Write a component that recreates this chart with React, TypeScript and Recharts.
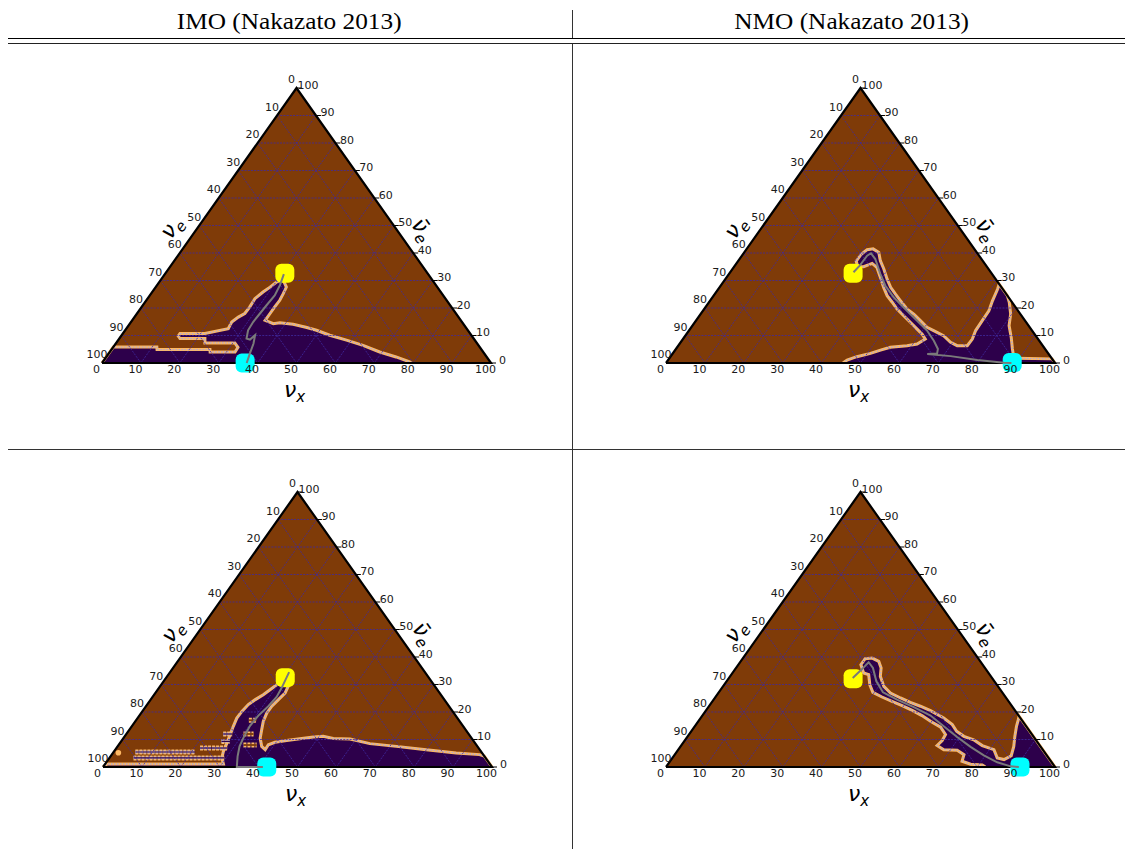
import React from "react";
import { ComposedChart, Area, Line, Scatter, XAxis, YAxis } from "recharts";

// ternary points are [nu_x, nubar_e] in percent (nu_e is the remainder)
type TP = [number, number];

const COLUMN_TITLES = ["IMO (Nakazato 2013)", "NMO (Nakazato 2013)"];
const TICKS = [0, 10, 20, 30, 40, 50, 60, 70, 80, 90, 100];
const GRID_STEPS = [10, 20, 30, 40, 50, 60, 70, 80, 90];

// ---- IMO, top row
const imoTopRegion: TP[] = [
  [0, 0], [0, 5.8], [11.2, 5.8], [11.7, 4.9], [25.3, 4.9], [25.8, 4.0], [32.2, 4.0],
  [32.1, 5.7], [30.5, 7.3], [22.8, 7.3], [22.0, 8.9], [15.6, 8.9], [14.7, 9.8], [14.7, 10.7],
  [21.1, 10.7], [26.2, 12.5], [25.9, 14.9], [26.7, 16.7], [27.7, 18.0], [27.8, 20.4],
  [27.6, 23.4], [28.5, 25.8], [29.4, 27.6], [30.2, 29.5], [31.3, 30.4], [33.6, 27.6],
  [34.0, 25.2], [34.3, 22.8], [34.2, 20.4], [34.2, 18.0], [34.2, 15.5], [36.9, 14.3],
  [38.4, 14.6], [42.1, 14.1], [46.2, 12.9], [49.2, 11.9], [53.5, 10.1], [58.7, 8.3],
  [63.9, 6.4], [69.4, 4.0], [74.5, 2.2], [78.9, 0.4], [79.6, 0],
];
const imoTopTrack: TP[] = [
  [30.6, 32.3], [31.6, 28.3], [32.1, 24.6], [31.8, 21.0], [31.6, 18.0], [31.4, 14.9],
  [31.6, 11.9], [32.7, 8.9], [33.8, 8.5], [34.3, 10.1], [35.4, 7.1], [36.3, 3.4], [37.2, 0],
];
const imoTopStart: TP = [30.7, 32.6];
const imoTopEnd: TP = [36.8, 0];

// ---- NMO, top row
const nmoTopRegion: TP[] = [
  [45.5, 0], [46.0, 1.1], [47.9, 2.3], [50.8, 3.5], [52.8, 4.7], [54.8, 5.7], [58.8, 6.3],
  [61.1, 6.9], [62.3, 8.7], [60.6, 10.5], [58.3, 12.4], [55.4, 14.8], [52.5, 17.2],
  [49.6, 19.6], [47.1, 22.1], [44.6, 24.5], [42.2, 27.5], [39.5, 31.2], [36.8, 34.8],
  [34.9, 36.2], [33.3, 35.0], [31.8, 35.0], [30.4, 37.0], [30.4, 39.4], [31.1, 41.2],
  [32.5, 41.5], [34.6, 40.2], [36.5, 37.2], [38.9, 34.2], [41.6, 30.5], [44.0, 27.5],
  [46.4, 25.1], [48.9, 22.7], [52.2, 19.6], [54.8, 17.8], [57.7, 15.4], [60.6, 13.0],
  [62.9, 11.8], [66.4, 9.9], [69.4, 7.5], [71.7, 6.3], [74.3, 6.3], [74.4, 8.7],
  [73.7, 11.8], [73.6, 15.4], [73.5, 19.0], [72.6, 22.7], [71.8, 26.9], [71.3, 28.7],
  [75.5, 24.5], [77.2, 22.1], [79.7, 17.8], [81.4, 13.6], [84.1, 9.3], [86.5, 5.1],
  [88.6, 1.7], [98.5, 1.5], [100, 0],
];
const nmoTopTrack: TP[] = [
  [31.7, 33.0], [32.1, 35.4], [32.2, 39.0], [32.75, 39.9], [34.9, 37.8], [38.9, 32.4],
  [42.35, 28.1], [46.6, 23.9], [51.7, 19.6], [56.8, 15.4], [61.2, 11.8], [64.8, 8.1],
  [67.35, 5.1], [67.95, 3.5], [65.5, 3.3], [71.9, 2.5], [79.5, 1.1], [86.85, 0.1], [88.8, 0],
];
const nmoTopStart: TP = [31.8, 32.6];
const nmoTopEnd: TP = [88.9, 0.2];

// ---- IMO, bottom row
const imoBotRegion: TP[] = [
  [0, 0], [0.5, 1.1], [30.4, 1.1], [28.9, 3.3], [28.1, 5.7], [27.5, 8.7], [26.8, 11.8],
  [26.1, 14.8], [25.5, 17.8], [25.6, 20.2], [26.0, 22.7], [26.9, 24.5], [28.05, 26.3],
  [28.9, 28.1], [29.7, 29.9], [31.0, 30.8], [32.95, 29.3], [33.35, 26.9], [32.85, 24.5],
  [32.35, 22.1], [32.3, 19.6], [32.9, 16.6], [34.0, 13.6], [35.15, 10.5], [37.05, 7.5],
  [38.55, 6.3], [38.45, 8.1], [39.7, 9.0], [42.4, 9.6], [45.45, 10.3], [48.65, 10.9],
  [51.0, 11.2], [54.0, 10.4], [58.4, 10.2], [64.35, 8.5], [71.65, 7.5], [79.95, 6.3],
  [88.25, 5.1], [94.55, 4.5], [96, 4.0], [100, 0],
];
const imoBotStripes: TP[][] = [
  [[6.2, 3.3], [29.5, 3.3]],
  [[5.6, 5.45], [21.0, 5.45]],
  [[21.5, 6.9], [28.5, 6.9]],
  [[25.8, 9.3], [28.0, 9.3]],
  [[24.9, 12.0], [27.2, 12.0]],
];
const imoBotCuts: TP[][] = [
  [[30.1, 12.0], [32.7, 12.0]],
  [[32.1, 8.0], [35.5, 8.0]],
  [[29.0, 17.0], [31.0, 17.0]],
];
const imoBotSpecks: TP[] = [[1.35, 5.2]];
const imoBotTrack: TP[] = [
  [30.6, 34.5], [31.55, 28.7], [31.9, 25.45], [31.45, 22.1], [30.6, 18.7], [30.3, 15.0],
  [30.7, 11.15], [31.35, 7.5], [32.65, 3.9], [34.4, 0], [41.1, 0],
];
const imoBotStart: TP = [30.6, 32.5];
const imoBotEnd: TP = [42.1, 0];

// ---- NMO, bottom row
const nmoBotRegion: TP[] = [
  [82.1, 0], [80.95, 0.7], [77.8, 1.0], [75.05, 2.1], [74.35, 4.5], [71.8, 6.1],
  [68.25, 6.3], [65.8, 7.8], [66.2, 9.6], [65.95, 11.8], [63.35, 14.5], [59.7, 16.6],
  [56.45, 18.7], [53.0, 20.6], [49.55, 22.3], [46.15, 23.9], [42.8, 25.45], [39.6, 27.15],
  [37.45, 29.9], [35.3, 33.6], [33.7, 34.2], [31.5, 37.2], [31.5, 39.4], [33.2, 39.6],
  [35.5, 38.4], [37.3, 36.0], [38.6, 33.0], [41.35, 29.3], [44.25, 26.9], [47.75, 25.1],
  [51.05, 23.5], [54.35, 22.1], [57.75, 20.5], [62.5, 17.8], [65.9, 15.4], [68.2, 13.0],
  [71.0, 11.15], [74.15, 9.9], [77.4, 7.8], [81.15, 6.3], [83.5, 3.3], [85.55, 2.7],
  [86.7, 4.1], [85.65, 7.5], [84.1, 11.15], [82.7, 14.8], [81.9, 17.45], [81.5, 18.5], [100, 0],
];
const nmoBotTrack: TP[] = [
  [31.8, 32.4], [32.6, 35.6], [33.05, 38.1], [35.2, 36.0], [38.5, 31.15], [42.2, 27.15],
  [47.15, 24.5], [52.8, 21.8], [58.65, 18.7], [64.0, 14.8], [69.4, 10.9], [74.65, 7.3],
  [79.6, 4.2], [84.3, 1.7], [88.5, 0.24], [90.7, 0],
];
const nmoBotStart: TP = [32.05, 32.1];
const nmoBotEnd: TP = [91.0, 0];

const BROWN = "#7f3b08";
const PURPLE = "#2d004b";
const EDGE_OUT = "#fdb863";
const EDGE_IN = "#b2abd2";
const GRID_COLOR = "#3f2aa0";
const TRACK_COLOR = "#7a7a7a";
const LABEL_FONT = "'DejaVu Sans', sans-serif";

// chart box and plot area (plot area = bounding box of the triangle)
const CW = 560;
const CH = 400;
const ML = 94;
const MT = 40;
const PW = 389;
const PH = 275;

const toXY = ([a, b]: TP) => ({ x: a + b / 2, y: b });

const TRIANGLE = ([[0, 0], [0, 100], [100, 0]] as TP[]).map(toXY);
const FRAME = ([[0, 0], [0, 100], [100, 0], [0, 0]] as TP[]).map(toXY);

function gridData() {
  const out: { x: number; y: number | null }[] = [];
  for (const t of GRID_STEPS) {
    const segs: [TP, TP][] = [
      [[0, t], [100 - t, t]],
      [[t, 0], [t, 100 - t]],
      [[100 - t, 0], [0, 100 - t]],
    ];
    for (const [a, b] of segs) {
      const pa = toXY(a);
      const pb = toXY(b);
      out.push(pa, pb, { x: pb.x, y: null });
    }
  }
  return out;
}
const GRID = gridData();

const BOTTOM_LABELS = TICKS.map((v) => ({ ...toXY([v, 0]), label: v }));
const LEFT_LABELS = TICKS.map((v) => ({ ...toXY([0, 100 - v]), label: v }));
const RIGHT_LABELS = TICKS.map((v) => ({ ...toXY([100 - v, v]), label: v }));

const labelText = {
  fontFamily: LABEL_FONT,
  fontSize: 11,
  fill: "#1a1a1a",
  textAnchor: "middle" as const,
  dominantBaseline: "central" as const,
};

const bottomLabel = (p: any) => (
  <text x={p.cx - 5.5} y={p.cy + 6} {...labelText}>
    {p.payload.label}
  </text>
);
const leftLabel = (p: any) => (
  <text x={p.cx - 5} y={p.cy - 8.5} {...labelText}>
    {p.payload.label}
  </text>
);
const rightLabel = (p: any) => (
  <g>
    <line x1={p.cx} y1={p.cy} x2={p.cx + 5} y2={p.cy} stroke="#000" strokeWidth={1} />
    <text x={p.cx + 11.5} y={p.cy - 3} {...labelText}>
      {p.payload.label}
    </text>
  </g>
);

const titleFont = {
  fontFamily: LABEL_FONT,
  fontStyle: "italic" as const,
  fill: "#000",
  textAnchor: "middle" as const,
};

const bottomTitle = (p: any) => (
  <text x={p.cx - 2} y={p.cy + 34} fontSize={22} {...titleFont}>
    ν<tspan fontSize={15} dy={5}>x</tspan>
  </text>
);
const leftTitle = (p: any) => {
  const tx = p.cx - 22;
  const ty = p.cy + 6;
  return (
    <text x={tx} y={ty} fontSize={22} {...titleFont} transform={`rotate(-54.7 ${tx} ${ty})`}>
      ν<tspan fontSize={15} dy={5}>e</tspan>
    </text>
  );
};
const rightTitle = (p: any) => {
  const tx = p.cx + 23;
  const ty = p.cy + 8;
  return (
    <text x={tx} y={ty} fontSize={22} {...titleFont} transform={`rotate(54.7 ${tx} ${ty})`}>
      {"\u03bd\u0304"}
      <tspan fontSize={15} dy={5}>e</tspan>
    </text>
  );
};

const marker = (color: string) => (p: any) => (
  <rect x={p.cx - 9.5} y={p.cy - 9.5} width={19} height={19} rx={6} fill={color} />
);
const speck = (p: any) => <circle cx={p.cx} cy={p.cy} r={2.8} fill={EDGE_OUT} />;

const flat = { dot: false, activeDot: false, isAnimationActive: false, type: "linear" as const };

type PanelProps = {
  left: number;
  top: number;
  region: TP[];
  stripes?: TP[][];
  cuts?: TP[][];
  specks?: TP[];
  track: TP[];
  start: TP;
  end: TP;
};

function Panel({ left, top, region, stripes = [], cuts = [], specks = [], track, start, end }: PanelProps) {
  const regionXY = region.map(toXY);
  return (
    <div style={{ position: "absolute", left, top }}>
      <ComposedChart
        width={CW}
        height={CH}
        margin={{ top: MT, left: ML, right: CW - ML - PW, bottom: CH - MT - PH }}
      >
        <XAxis type="number" dataKey="x" domain={[0, 100]} hide />
        <YAxis type="number" dataKey="y" domain={[0, 100]} hide />

        <Area {...flat} data={TRIANGLE} dataKey="y" baseValue={0} fill={BROWN} fillOpacity={1} stroke="none" />
        <Area
          {...flat}
          data={regionXY}
          dataKey="y"
          baseValue={region[0][1]}
          fill={PURPLE}
          fillOpacity={1}
          stroke={EDGE_OUT}
          strokeWidth={3}
        />
        <Line {...flat} data={regionXY} dataKey="y" stroke={EDGE_IN} strokeWidth={1.3} strokeDasharray="1.6 1.4" />

        {stripes.map((s, i) => (
          <Line key={`so${i}`} {...flat} data={s.map(toXY)} dataKey="y" stroke={EDGE_OUT} strokeWidth={5} strokeDasharray="3 1" />
        ))}
        {stripes.map((s, i) => (
          <Line key={`si${i}`} {...flat} data={s.map(toXY)} dataKey="y" stroke={EDGE_IN} strokeWidth={2.8} strokeDasharray="2 1" />
        ))}
        {stripes.map((s, i) => (
          <Line key={`sp${i}`} {...flat} data={s.map(toXY)} dataKey="y" stroke={PURPLE} strokeWidth={1.2} />
        ))}
        {cuts.map((s, i) => (
          <Line key={`co${i}`} {...flat} data={s.map(toXY)} dataKey="y" stroke={EDGE_OUT} strokeWidth={5} strokeDasharray="3 1" />
        ))}
        {cuts.map((s, i) => (
          <Line key={`cb${i}`} {...flat} data={s.map(toXY)} dataKey="y" stroke={BROWN} strokeWidth={1.8} />
        ))}
        {specks.length > 0 && <Scatter data={specks.map(toXY)} shape={speck} isAnimationActive={false} />}

        <Line {...flat} data={GRID} dataKey="y" stroke={GRID_COLOR} strokeWidth={0.8} strokeDasharray="2 1.2" />
        <Line {...flat} data={FRAME} dataKey="y" stroke="#000" strokeWidth={2.2} />

        <Scatter data={[toXY(start)]} shape={marker("#ffff00")} isAnimationActive={false} />
        <Scatter data={[toXY(end)]} shape={marker("#00ffff")} isAnimationActive={false} />
        <Line {...flat} data={track.map(toXY)} dataKey="y" stroke={TRACK_COLOR} strokeWidth={2} zIndex={650} />

        <Scatter data={BOTTOM_LABELS} shape={bottomLabel} isAnimationActive={false} />
        <Scatter data={LEFT_LABELS} shape={leftLabel} isAnimationActive={false} />
        <Scatter data={RIGHT_LABELS} shape={rightLabel} isAnimationActive={false} />
        <Scatter data={[toXY([50, 0])]} shape={bottomTitle} isAnimationActive={false} />
        <Scatter data={[toXY([0, 50])]} shape={leftTitle} isAnimationActive={false} />
        <Scatter data={[toXY([50, 50])]} shape={rightTitle} isAnimationActive={false} />
      </ComposedChart>
    </div>
  );
}

const HEAD_CENTERS = [289, 852];

export default function App() {
  return (
    <div
      style={{
        position: "absolute",
        left: 0,
        top: 0,
        width: 1125,
        height: 849,
        background: "#fff",
        overflow: "hidden",
      }}
    >
      {COLUMN_TITLES.map((t, i) => (
        <div
          key={t}
          style={{
            position: "absolute",
            left: HEAD_CENTERS[i] - 200,
            top: 8,
            width: 400,
            textAlign: "center",
            fontFamily: "'Liberation Serif', serif",
            fontSize: 23,
            lineHeight: "28px",
            color: "#000",
          }}
        >
          <span style={{ display: "inline-block", transform: "scaleX(1.1)" }}>{t}</span>
        </div>
      ))}
      <div style={{ position: "absolute", left: 8, top: 38, width: 1117, height: 1, background: "#000" }} />
      <div style={{ position: "absolute", left: 8, top: 43, width: 1117, height: 1, background: "#222" }} />
      <div style={{ position: "absolute", left: 8, top: 449, width: 1117, height: 1, background: "#333" }} />
      <div style={{ position: "absolute", left: 572, top: 10, width: 1, height: 28, background: "#333" }} />
      <div style={{ position: "absolute", left: 572, top: 44, width: 1, height: 805, background: "#333" }} />

      <Panel left={7.7} top={47.7} region={imoTopRegion} track={imoTopTrack} start={imoTopStart} end={imoTopEnd} />
      <Panel left={572} top={47.7} region={nmoTopRegion} track={nmoTopTrack} start={nmoTopStart} end={nmoTopEnd} />
      <Panel
        left={8.7}
        top={452.3}
        region={imoBotRegion}
        stripes={imoBotStripes}
        cuts={imoBotCuts}
        specks={imoBotSpecks}
        track={imoBotTrack}
        start={imoBotStart}
        end={imoBotEnd}
      />
      <Panel left={572} top={452.3} region={nmoBotRegion} track={nmoBotTrack} start={nmoBotStart} end={nmoBotEnd} />
    </div>
  );
}
